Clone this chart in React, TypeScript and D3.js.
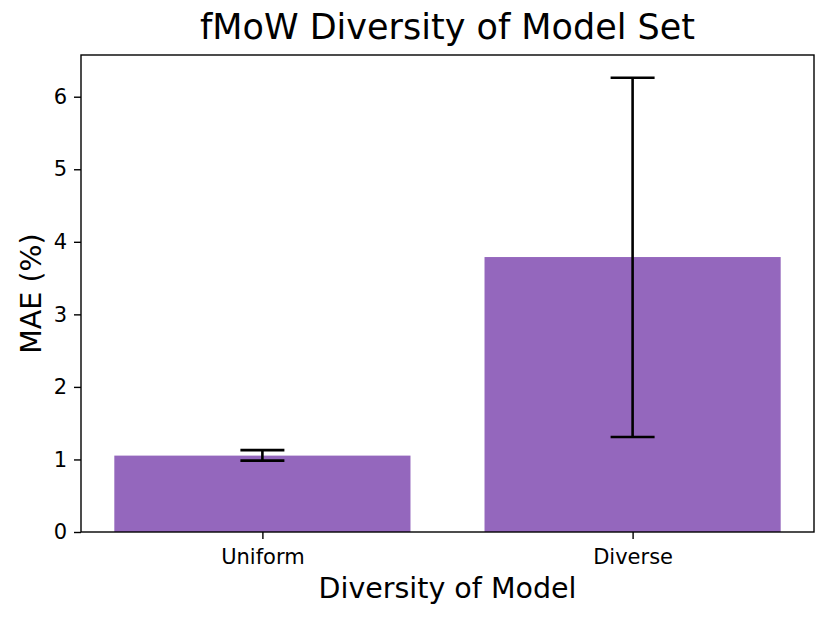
import { useEffect, useRef } from "react";
import * as d3 from "d3";

const categories = ["Uniform", "Diverse"];
const maeValues = [1.053, 3.79];
const errLow = [0.984, 1.31];
const errHigh = [1.128, 6.262];
const yTicks = [0, 1, 2, 3, 4, 5, 6];

const width = 831;
const height = 621;
const marginLeft = 81;
const marginRight = 17;
const marginTop = 55;
const marginBottom = 89;
const barColor = "#9467bd";
const font = "DejaVu Sans";

export default function App() {
  const xAxis = useRef<SVGGElement>(null);
  const yAxis = useRef<SVGGElement>(null);

  // matplotlib-style linear x for categorical bars (width 0.8, 5% margins)
  const xScale = d3.scaleLinear([-0.49, 1.49], [marginLeft, width - marginRight]);
  const yScale = d3.scaleLinear([0, 6.575], [height - marginBottom, marginTop]);
  const barW = xScale(0.8) - xScale(0);
  const capW = 44;

  useEffect(() => {
    const g = d3
      .select(xAxis.current)
      .attr("transform", `translate(0,${height - marginBottom})`)
      .call(
        d3
          .axisBottom(xScale)
          .tickValues([0, 1])
          .tickFormat((d) => categories[d as number])
          .tickSize(7)
          .tickPadding(10)
      );
    g.select(".domain").remove();
    g.selectAll("line").attr("stroke", "#000").attr("stroke-width", 1.4);
    g.selectAll("text")
      .attr("font-family", font)
      .attr("font-size", 21)
      .attr("fill", "#000");
  }, []);

  useEffect(() => {
    const g = d3
      .select(yAxis.current)
      .attr("transform", `translate(${marginLeft},0)`)
      .call(
        d3
          .axisLeft(yScale)
          .tickValues(yTicks)
          .tickFormat(d3.format("d"))
          .tickSize(7)
          .tickPadding(7)
      );
    g.select(".domain").remove();
    g.selectAll("line").attr("stroke", "#000").attr("stroke-width", 1.4);
    g.selectAll("text")
      .attr("font-family", font)
      .attr("font-size", 21)
      .attr("fill", "#000");
  }, []);

  return (
    <svg
      width={width}
      height={height}
      style={{ position: "absolute", left: 0, top: 0, background: "#fff" }}
    >
      <g>
        {categories.map((c, i) => (
          <rect
            key={c}
            x={xScale(i) - barW / 2}
            y={yScale(maeValues[i])}
            width={barW}
            height={yScale(0) - yScale(maeValues[i])}
            fill={barColor}
          />
        ))}
      </g>
      <g stroke="#000" strokeWidth={2.6}>
        {categories.map((c, i) => (
          <g key={c}>
            <line x1={xScale(i)} x2={xScale(i)} y1={yScale(errLow[i])} y2={yScale(errHigh[i])} />
            <line x1={xScale(i) - capW / 2} x2={xScale(i) + capW / 2} y1={yScale(errLow[i])} y2={yScale(errLow[i])} />
            <line x1={xScale(i) - capW / 2} x2={xScale(i) + capW / 2} y1={yScale(errHigh[i])} y2={yScale(errHigh[i])} />
          </g>
        ))}
      </g>
      <rect
        x={marginLeft}
        y={marginTop}
        width={width - marginLeft - marginRight}
        height={height - marginTop - marginBottom}
        fill="none"
        stroke="#000"
        strokeWidth={1.4}
      />
      <g ref={xAxis}></g>
      <g ref={yAxis}></g>
      <text
        x={(marginLeft + width - marginRight) / 2}
        y={39}
        textAnchor="middle"
        fontFamily={font}
        fontSize={35}
        fill="#000"
      >
        fMoW Diversity of Model Set
      </text>
      <text
        x={(marginLeft + width - marginRight) / 2}
        y={598}
        textAnchor="middle"
        fontFamily={font}
        fontSize={28.5}
        fill="#000"
      >
        Diversity of Model
      </text>
      <text
        transform={`translate(41,${(marginTop + height - marginBottom) / 2}) rotate(-90)`}
        textAnchor="middle"
        fontFamily={font}
        fontSize={28.5}
        fill="#000"
      >
        MAE (%)
      </text>
    </svg>
  );
}
